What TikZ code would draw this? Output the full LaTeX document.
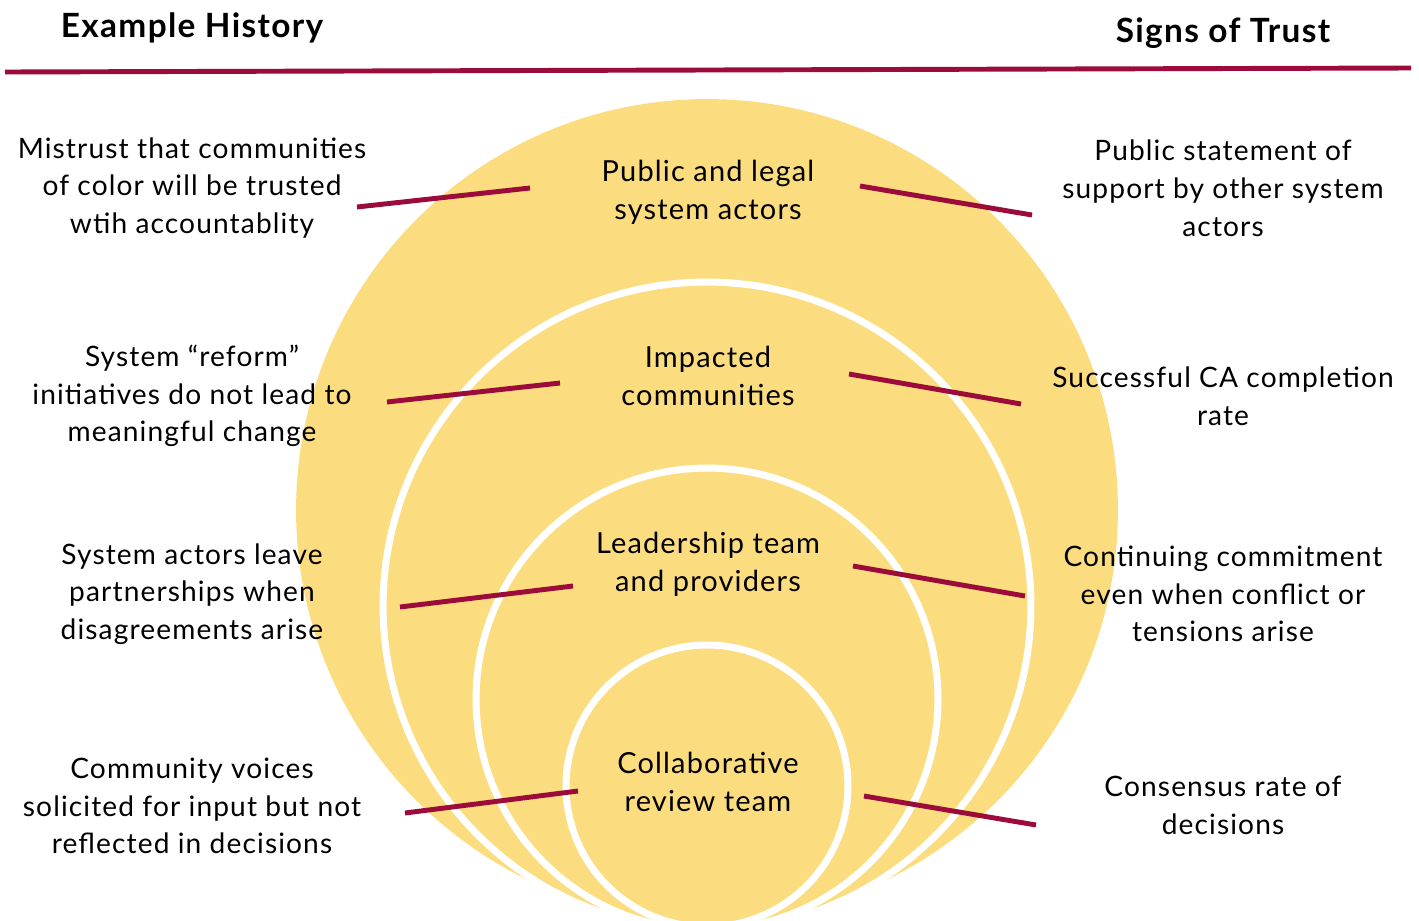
\documentclass[tikz,border=0pt]{standalone}
\usepackage{fontspec}
\setmainfont{Lato}[LetterSpace=4]
\definecolor{trustred}{RGB}{155,12,58}
\definecolor{trustgold}{RGB}{251,220,127}
\tikzset{
  disc/.style={fill=trustgold},
  ring/.style={fill=trustgold, draw=white, line width=4pt},
  link/.style={draw=trustred, line width=2.8pt},
  side/.style={align=center, font=\fontsize{16}{21.5}\selectfont},
  core/.style={align=center, font=\fontsize{16.5}{21.5}\selectfont},
  head/.style={font=\fontsize{19}{22}\selectfont\bfseries},
}

\begin{document}
\begin{tikzpicture}[x=0.02cm,y=-0.02cm]
  \useasboundingbox (0,0) rectangle (1419,920);
  % nested circles, clipped at the bottom edge
  \begin{scope}
    \clip (0,0) rectangle (1419,920);
    \fill[disc] (707,510) circle[radius=8.22cm];
    \draw[ring] (707,606) circle[radius=6.48cm];
    \draw[ring] (707,699) circle[radius=4.62cm];
    \draw[ring] (707,786) circle[radius=2.82cm];
  \end{scope}

  % headings
  \node[head] (hist) at (192,28) {Example History};
  \node[head] (sign) at (1223,33) {Signs of Trust};
  \coordinate (ruleL) at (5,72);
  \coordinate (ruleR) at (1411,68);
  \draw[link] (ruleL) -- (ruleR);

  % circle labels
  \node[core] (c1) at (708,192) {Public and legal\\system actors};
  \node[core] (c2) at (708,376) {Impacted\\communities};
  \node[core] (c3) at (708,564) {Leadership team\\and providers};
  \node[core] (c4) at (708,782) {Collaborative\\review team};

  % history column
  \node[side] (h1) at (192,188) {Mistrust that communities\\of color will be trusted\\wtih accountablity};
  \node[side] (h2) at (192,396) {System “reform”\\initiatives do not lead to\\meaningful change};
  \node[side] (h3) at (192,594) {System actors leave\\partnerships when\\disagreements arise};
  \node[side] (h4) at (192,806) {Community voices\\solicited for input but not\\reflected in decisions};

  % trust column
  \node[side] (t1) at (1223,188) {Public statement of\\support by other system\\actors};
  \node[side] (t2) at (1223,396) {Successful CA completion\\rate};
  \node[side] (t3) at (1223,594) {Continuing commitment\\even when conflict or\\tensions arise};
  \node[side] (t4) at (1223,805) {Consensus rate of\\decisions};

  % connector ends
  \coordinate (h1e) at (357,207); \coordinate (c1w) at (530,188);
  \coordinate (h2e) at (387,402); \coordinate (c2w) at (560,383);
  \coordinate (h3e) at (400,607); \coordinate (c3w) at (573,586);
  \coordinate (h4e) at (405,813); \coordinate (c4w) at (578,791);
  \coordinate (c1e) at (860,186); \coordinate (t1w) at (1032,215);
  \coordinate (c2e) at (849,374); \coordinate (t2w) at (1021,404);
  \coordinate (c3e) at (853,566); \coordinate (t3w) at (1025,596);
  \coordinate (c4e) at (864,796); \coordinate (t4w) at (1036,825);

  \draw[link] (h1e) -- (c1w);
  \draw[link] (h2e) -- (c2w);
  \draw[link] (h3e) -- (c3w);
  \draw[link] (h4e) -- (c4w);
  \draw[link] (c1e) -- (t1w);
  \draw[link] (c2e) -- (t2w);
  \draw[link] (c3e) -- (t3w);
  \draw[link] (c4e) -- (t4w);
\end{tikzpicture}
\end{document}
